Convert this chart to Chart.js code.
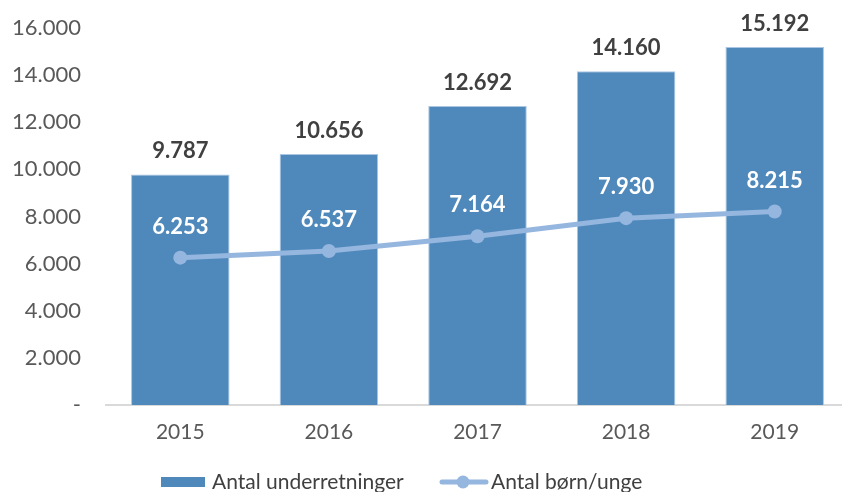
<!DOCTYPE html>
<html><head><meta charset="utf-8">
<script src="https://cdn.jsdelivr.net/npm/chart.js@4"></script>
<style>html,body{margin:0;padding:0;overflow:hidden;background:#fff;width:842px;height:492px}canvas{display:block}</style>
</head><body>
<canvas id="c" width="856" height="492"></canvas>
<script>
const categories = ['2015','2016','2017','2018','2019'];
const underretninger = [9787, 10656, 12692, 14160, 15192];
const boernUnge = [6253, 6537, 7164, 7930, 8215];
const yTicks = [0, 2000, 4000, 6000, 8000, 10000, 12000, 14000, 16000];
const seriesNames = ['Antal underretninger', 'Antal børn/unge'];

const FONT = 'Lato, "Noto Sans", sans-serif';
const BAR = 'rgb(79,137,188)';
const BAR_BORDER = 'rgb(170,198,226)';
const LINE = 'rgb(149,182,222)';
const fmtN = v => String(v).replace(/\B(?=(\d{3})+(?!\d))/g, '.');
const fmt = v => v === 0 ? '-' : fmtN(v);

const labelsPlugin = {
  id: 'vals',
  afterDatasetsDraw(chart) {
    const ctx = chart.ctx;
    ctx.save();
    ctx.textAlign = 'center';
    ctx.textBaseline = 'middle';
    const mBar = chart.getDatasetMeta(1);
    const mLine = chart.getDatasetMeta(0);
    ctx.font = 'bold 22px ' + FONT;
    ctx.fillStyle = '#404040';
    mBar.data.forEach((el, i) => {
      ctx.fillText(fmtN(underretninger[i]), el.x, el.y - 23);
    });
    ctx.fillStyle = '#ffffff';
    mLine.data.forEach((el, i) => {
      ctx.fillText(fmtN(boernUnge[i]), el.x, el.y - 31);
    });
    // legend
    const ly = 482;
    ctx.font = '21px ' + FONT;
    ctx.textAlign = 'left';
    ctx.fillStyle = BAR;
    ctx.fillRect(161, ly - 5, 44, 10);
    ctx.fillStyle = '#404040';
    ctx.fillText(seriesNames[0], 212, ly);
    ctx.strokeStyle = LINE;
    ctx.lineWidth = 5;
    ctx.lineCap = 'round';
    ctx.beginPath(); ctx.moveTo(442, ly); ctx.lineTo(486, ly); ctx.stroke();
    ctx.fillStyle = LINE;
    ctx.beginPath(); ctx.arc(463, ly, 6.5, 0, Math.PI*2); ctx.fill();
    ctx.fillStyle = '#404040';
    ctx.fillText(seriesNames[1], 491, ly);
    ctx.restore();
  }
};

new Chart(document.getElementById('c'), {
  data: {
    labels: categories,
    datasets: [
      { type: 'line', label: seriesNames[1], data: boernUnge, borderColor: LINE, backgroundColor: LINE,
        borderWidth: 5, pointRadius: 7, pointHoverRadius: 7, pointBackgroundColor: LINE, pointBorderWidth: 0, order: 0 },
      { type: 'bar', label: seriesNames[0], data: underretninger, backgroundColor: BAR, borderColor: BAR_BORDER,
        borderWidth: 1, categoryPercentage: 1, barPercentage: 0.663, order: 1 }
    ]
  },
  options: {
    responsive: false,
    animation: false,
    layout: { padding: { top: 28, right: 2, bottom: 47, left: 0 } },
    plugins: { legend: { display: false }, tooltip: { enabled: false } },
    scales: {
      x: {
        grid: { display: false, drawTicks: false },
        border: { display: true, color: '#d9d9d9', width: 2 },
        ticks: { color: '#595959', font: { family: FONT, size: 21 }, padding: 15 },
        afterFit(s) { s.height = 40; }
      },
      y: {
        min: 0, max: 16000,
        afterBuildTicks(s) { s.ticks = yTicks.map(v => ({ value: v })); },
        grid: { display: false, drawTicks: false },
        border: { display: false },
        ticks: { color: '#595959', font: { family: FONT, size: 22 }, padding: 25, callback: v => fmt(v) },
        afterFit(s) { s.width = 106; s.paddingTop = 0; s.paddingBottom = 0; }
      }
    }
  },
  plugins: [labelsPlugin]
});
</script>
</body></html>
